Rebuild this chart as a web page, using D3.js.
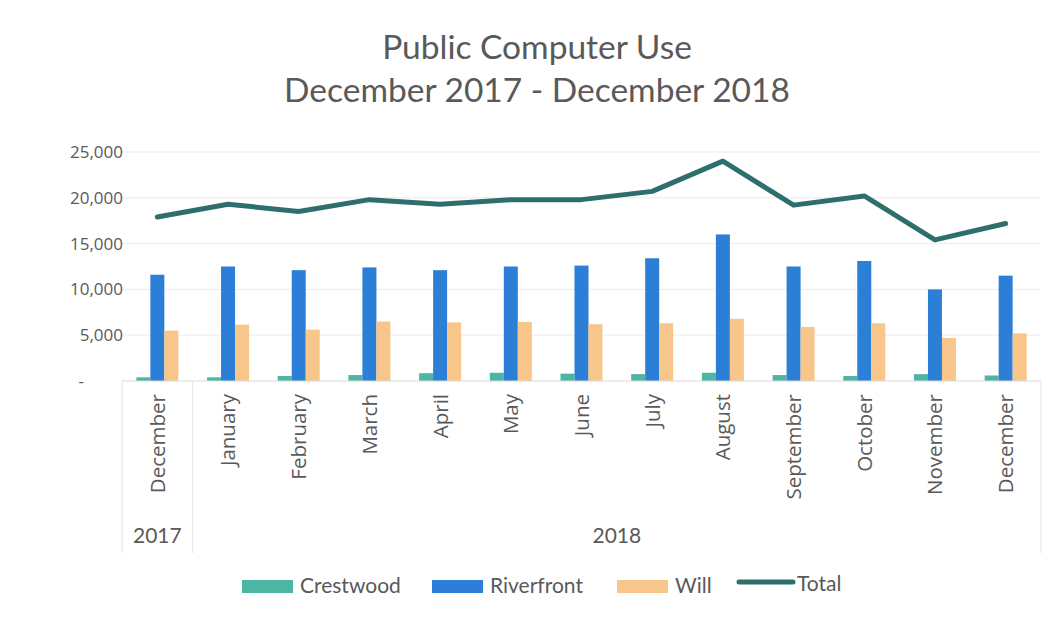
<!DOCTYPE html>
<html>
<head>
<meta charset="utf-8">
<script src="https://cdn.jsdelivr.net/npm/d3@7/dist/d3.min.js"></script>
<style>
  html, body { margin: 0; padding: 0; background: #ffffff; }
  svg { display: block; }
</style>
</head>
<body>
<svg id="chart" width="1064" height="622"></svg>
<script>
// Monthly public computer sessions by branch
const months = ["December", "January", "February", "March", "April", "May", "June",
                "July", "August", "September", "October", "November", "December"];
const years = [
  { label: "2017", from: 0, to: 0 },
  { label: "2018", from: 1, to: 12 }
];
const crestwood  = [400, 400, 550, 650, 850, 900, 800, 750, 900, 650, 550, 750, 600];
const riverfront = [11600, 12500, 12100, 12400, 12100, 12500, 12600, 13400, 16000, 12500, 13100, 10000, 11500];
const will       = [5500, 6150, 5600, 6500, 6400, 6450, 6200, 6300, 6800, 5900, 6300, 4700, 5200];
const total      = [17900, 19300, 18500, 19800, 19300, 19800, 19800, 20700, 24000, 19200, 20200, 15400, 17200];
const yTicks     = [0, 5000, 10000, 15000, 20000, 25000];

const seriesNames  = ["Crestwood", "Riverfront", "Will"];
const seriesValues = [crestwood, riverfront, will];
const colors = { Crestwood: "#4db5a3", Riverfront: "#2b7fd6", Will: "#f8c68a", Total: "#2e6f6d" };

const svg = d3.select("#chart");
const plot = { left: 122, right: 1041, top: 152, bottom: 381 };

const x = d3.scaleBand().domain(d3.range(months.length)).range([plot.left, plot.right]);
const xs = d3.scaleBand().domain(seriesNames).range([-21, 21]);
const y = d3.scaleLinear().domain([0, 25000]).range([plot.bottom, plot.top]);

const textColor = "#595959";

// Title
const title = svg.append("g").attr("font-family", "Lato, 'Open Sans', sans-serif")
  .attr("fill", textColor).attr("text-anchor", "middle");
title.append("text").attr("x", 537).attr("y", 59).attr("font-size", 33.5).text("Public Computer Use");
title.append("text").attr("x", 537).attr("y", 102).attr("font-size", 33.5).text("December 2017 - December 2018");

// Horizontal gridlines
svg.append("g").selectAll("line").data(yTicks.filter(d => d > 0)).join("line")
  .attr("x1", plot.left).attr("x2", plot.right)
  .attr("y1", d => y(d)).attr("y2", d => y(d))
  .attr("stroke", "#ececec").attr("stroke-width", 1);

// Y axis labels (accounting style, zero shown as a dash)
const yAxis = d3.axisLeft(y).tickValues(yTicks).tickSize(0).tickPadding(0)
  .tickFormat(d => d === 0 ? "-" : d3.format(",")(d));
const yg = svg.append("g").attr("transform", `translate(${plot.left},0)`).call(yAxis);
yg.select(".domain").remove();
yg.selectAll("text").attr("font-family", "'Open Sans', sans-serif").attr("font-size", 17)
  .attr("fill", textColor).attr("x", d => d === 0 ? -38 : 1);

// Bars
const groups = svg.append("g").selectAll("g").data(months.map((m, i) => i)).join("g")
  .attr("transform", i => `translate(${x(i) + x.bandwidth() / 2},0)`);
groups.selectAll("rect")
  .data(i => seriesNames.map((s, k) => ({ s, v: seriesValues[k][i] })))
  .join("rect")
  .attr("x", d => xs(d.s)).attr("width", xs.bandwidth())
  .attr("y", d => y(d.v)).attr("height", d => y(0) - y(d.v))
  .attr("fill", d => colors[d.s]);

// Total line
const line = d3.line().x((d, i) => x(i) + x.bandwidth() / 2).y(d => y(d));
svg.append("path").datum(total).attr("d", line)
  .attr("fill", "none").attr("stroke", colors.Total).attr("stroke-width", 5)
  .attr("stroke-linejoin", "round").attr("stroke-linecap", "round");

// Category axis baseline and group separators
const axisG = svg.append("g").attr("stroke", "#e3e3e3").attr("stroke-width", 1);
axisG.append("line").attr("x1", plot.left).attr("x2", plot.right)
  .attr("y1", y(0)).attr("y2", y(0)).attr("stroke", "#dadada");
const sepX = [plot.left, x(1), plot.right];
axisG.selectAll("line.sep").data(sepX).join("line").attr("class", "sep")
  .attr("x1", d => d).attr("x2", d => d).attr("y1", y(0)).attr("y2", 553);

// Month labels
svg.append("g").selectAll("text").data(months).join("text")
  .attr("transform", (d, i) => `translate(${x(i) + x.bandwidth() / 2},394) rotate(-90)`)
  .attr("text-anchor", "end").attr("dy", "0.36em")
  .attr("font-family", "'Open Sans', sans-serif").attr("font-size", 20.5)
  .attr("fill", textColor).text(d => d);

// Year labels
svg.append("g").selectAll("text").data(years).join("text")
  .attr("x", d => (x(d.from) + x(d.to) + x.bandwidth()) / 2)
  .attr("y", 543).attr("text-anchor", "middle")
  .attr("font-family", "Lato, sans-serif").attr("font-size", 21)
  .attr("fill", textColor).text(d => d.label);

// Legend
const legendItems = [
  { name: "Crestwood", type: "rect", x: 242 },
  { name: "Riverfront", type: "rect", x: 432 },
  { name: "Will", type: "rect", x: 617 },
  { name: "Total", type: "line", x: 737 }
];
const lg = svg.append("g");
legendItems.forEach(it => {
  if (it.type === "rect") {
    lg.append("rect").attr("x", it.x).attr("y", 580).attr("width", 51).attr("height", 13)
      .attr("fill", colors[it.name]);
    lg.append("text").attr("x", it.x + 58).attr("y", 593)
      .attr("font-family", "Lato, sans-serif").attr("font-size", 21)
      .attr("fill", textColor).text(it.name);
  } else {
    lg.append("line").attr("x1", it.x + 2).attr("x2", it.x + 56).attr("y1", 582).attr("y2", 582)
      .attr("stroke", colors[it.name]).attr("stroke-width", 5).attr("stroke-linecap", "round");
    lg.append("text").attr("x", it.x + 60).attr("y", 591)
      .attr("font-family", "Lato, sans-serif").attr("font-size", 21)
      .attr("fill", textColor).text(it.name);
  }
});
</script>
</body>
</html>
